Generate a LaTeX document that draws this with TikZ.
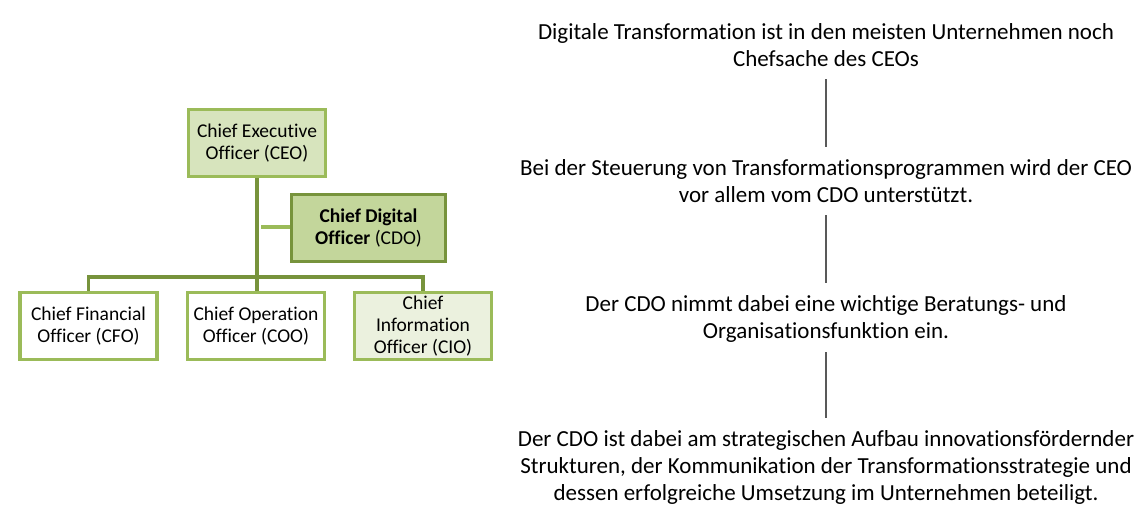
\documentclass[tikz,border=0pt]{standalone}
\usepackage{fontspec}
\setmainfont[Ligatures={NoCommon}]{Carlito}
\definecolor{olv}{HTML}{77933C}
\definecolor{olvl}{HTML}{9BBB59}
\definecolor{fceo}{HTML}{D7E4BD}
\definecolor{fcdo}{HTML}{C3D69B}
\definecolor{fcio}{HTML}{EBF1DE}
\definecolor{gry}{HTML}{595959}
\begin{document}
\begin{tikzpicture}[x=1pt,y=-1pt,
  box/.style={draw=olvl,line width=3.2pt,minimum width=137pt,minimum height=67pt,inner sep=0pt,align=center,font=\fontsize{19.5}{22}\selectfont},
  conn/.style={draw=olv,line width=3.4pt},
  rtext/.style={align=center,font=\fontsize{23}{27}\selectfont,inner sep=0pt},
  vline/.style={draw=gry,line width=2pt}]
\path[use as bounding box] (0,0) rectangle (1141,523);
\node[box,fill=fceo] (ceo) at (257,143) {Chief Executive\\Officer (CEO)};
\node[box,fill=fcdo,draw=olv,minimum width=154pt] (cdo) at (368.5,228) {\textbf{Chief Digital}\\\textbf{Officer} (CDO)};
\node[box,fill=white] (cfo) at (88.5,326) {Chief Financial\\Officer (CFO)};
\node[box,fill=white] (coo) at (256,326) {Chief Operation\\Officer (COO)};
\node[box,fill=fcio] (cio) at (423,326) {Chief\\Information\\Officer (CIO)};
\coordinate (j) at (257,277);
\coordinate (k) at (261,227);
\draw[conn] (ceo.south) -- (j);
\draw[conn] (cfo.north) |- (j) -| (cio.north);
\draw[conn] (j) -- (coo.north -| j);
\draw[draw=olvl,line width=3.4pt] (k) -- (cdo.west |- k);

\node[rtext] (t1) at (826,45.5) {Digitale Transformation ist in den meisten Unternehmen noch\\Chefsache des CEOs};
\node[rtext] (t2) at (826,181.5) {Bei der Steuerung von Transformationsprogrammen wird der CEO\\vor allem vom CDO unterstützt.};
\node[rtext] (t3) at (826,318.5) {Der CDO nimmt dabei eine wichtige Beratungs- und\\Organisationsfunktion ein.};
\node[rtext] (t4) at (826,467) {Der CDO ist dabei am strategischen Aufbau innovationsfördernder\\Strukturen, der Kommunikation der Transformationsstrategie und\\dessen erfolgreiche Umsetzung im Unternehmen beteiligt.};
\coordinate (a1) at (826,79); \coordinate (a2) at (826,147);
\coordinate (b1) at (826,215); \coordinate (b2) at (826,283);
\coordinate (c1) at (826,352); \coordinate (c2) at (826,418);
\draw[vline] (a1) -- (a2);
\draw[vline] (b1) -- (b2);
\draw[vline] (c1) -- (c2);
\end{tikzpicture}
\end{document}
